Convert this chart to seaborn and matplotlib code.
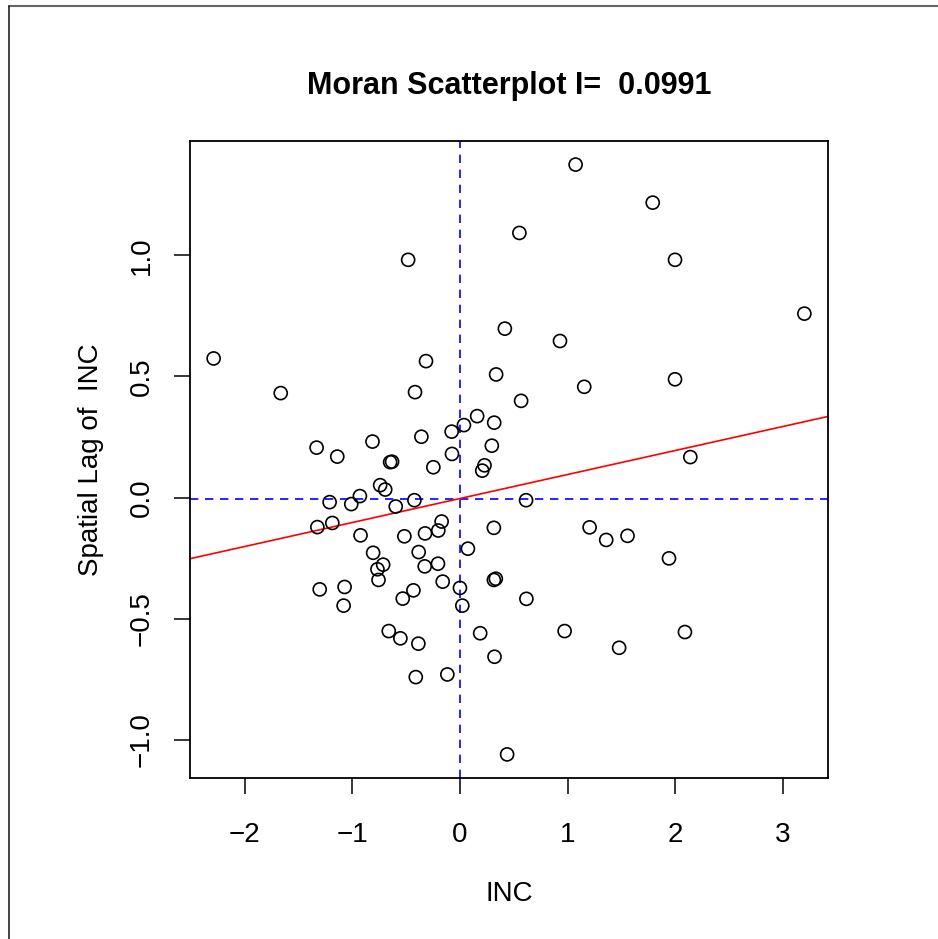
import numpy as np
import pandas as pd
import matplotlib
matplotlib.use('Agg')
import matplotlib.pyplot as plt
from matplotlib.lines import Line2D
import seaborn as sns

# Standardised INC and its spatial lag
inc = [-0.481, 0.417, -2.287, -0.315, 0.336, -1.664, -0.417, 1.074, 1.790, 0.552,
       1.997, 3.198, 0.929, 1.154, 1.997, 0.568, -1.331, -1.139, -0.812, -0.358,
       -0.077, 0.037, 0.160, 0.318, 0.296, -0.074, -0.648, -0.630, -0.247, 0.228,
       0.207, -0.741, -0.694, -0.929, -1.210, -1.009, -0.423, -0.596, -1.324, -1.185,
       -0.170, -0.201, -0.324, -0.516, -0.923, 0.315, 0.074, -0.806, -0.383, -0.204,
       -0.327, -0.713, -0.766, -0.756, -0.160, 0.315, 0.333, 0.000, -1.302, -1.071,
       -0.432, -0.531, -1.080, 0.022, -0.661, -0.553, -0.386, 0.188, 0.321, -0.117,
       -0.410, 0.438, 2.139, 0.614, 1.204, 1.358, 1.556, 1.941, 0.617, 0.972,
       2.089, 1.478]
lag_inc = [0.981, 0.697, 0.574, 0.563, 0.508, 0.431, 0.435, 1.374, 1.217, 1.092,
           0.981, 0.759, 0.646, 0.457, 0.488, 0.399, 0.206, 0.169, 0.231, 0.251,
           0.272, 0.299, 0.336, 0.309, 0.214, 0.180, 0.146, 0.148, 0.125, 0.133,
           0.111, 0.051, 0.033, 0.006, -0.019, -0.027, -0.011, -0.037, -0.122, -0.105,
           -0.099, -0.136, -0.148, -0.160, -0.156, -0.125, -0.211, -0.228, -0.225, -0.273,
           -0.284, -0.277, -0.296, -0.340, -0.347, -0.340, -0.335, -0.373, -0.379, -0.369,
           -0.383, -0.417, -0.446, -0.446, -0.551, -0.581, -0.603, -0.560, -0.657, -0.730,
           -0.741, -1.060, 0.167, -0.011, -0.123, -0.175, -0.158, -0.251, -0.418, -0.551,
           -0.555, -0.620]

moran_i = 0.0991
intercept = -0.004
x_ticks = [-2, -1, 0, 1, 2, 3]
y_ticks = [-1.0, -0.5, 0.0, 0.5, 1.0]

df = pd.DataFrame({'INC': inc, 'lag': lag_inc})

sns.set_style('white')
plt.rcParams['font.family'] = ['Liberation Sans', 'DejaVu Sans']
plt.rcParams['text.color'] = 'black'
plt.rcParams['axes.labelcolor'] = 'black'


def fmt(v, nd):
    s = f'{abs(v):.{nd}f}'
    return ('\u2212' + s) if v < 0 else s


fig = plt.figure(figsize=(9.38, 9.39), dpi=100)
ax = fig.add_axes([190 / 938, 1 - 778 / 939, 638 / 938, 637 / 939])

sns.scatterplot(data=df, x='INC', y='lag', ax=ax, marker='o', s=88,
                facecolor='none', edgecolor='black', linewidth=1.2, zorder=3)

# regression line (slope = Moran's I) and mean lines
ax.axline((0, intercept), slope=moran_i, color='red', lw=1.2, zorder=2)
ax.axvline(np.mean(inc), color='blue', lw=1.2, dashes=(5, 4), zorder=1)
ax.axhline(np.mean(lag_inc), color='blue', lw=1.2, dashes=(5, 4), zorder=1)

# R style 4% padding
xr = max(inc) - min(inc)
yr = max(lag_inc) - min(lag_inc)
ax.set_xlim(min(inc) - 0.04 * xr, max(inc) + 0.04 * xr)
ax.set_ylim(min(lag_inc) - 0.04 * yr, max(lag_inc) + 0.04 * yr)

ax.set_xticks(x_ticks)
ax.set_yticks(y_ticks)
ax.set_xticklabels([fmt(t, 0) for t in x_ticks])
ax.set_yticklabels([fmt(t, 1) for t in y_ticks], rotation=90, va='center')
ax.tick_params(axis='both', direction='out', length=11.5, width=1.1,
               labelsize=20, colors='black', bottom=True, left=True)
ax.tick_params(axis='x', pad=20)
ax.tick_params(axis='y', pad=14)

for sp in ax.spines.values():
    sp.set_visible(True)
    sp.set_color('black')
    sp.set_linewidth(1.3)

ax.set_xlabel('INC', fontsize=20, labelpad=24)
ax.set_ylabel('Spatial Lag of  INC', fontsize=20, labelpad=18)
ax.set_title('Moran Scatterplot I=  0.0991', fontsize=22, fontweight='bold', pad=34)

# the frame visible at the screenshot edge
fig.add_artist(Line2D([9 / 938, 1], [1 - 6 / 939, 1 - 6 / 939], color='#666666', lw=1.5))
fig.add_artist(Line2D([9 / 938, 9 / 938], [0, 1 - 6 / 939], color='#222222', lw=1.2))

fig.savefig('out.png', dpi=100, facecolor='white')
